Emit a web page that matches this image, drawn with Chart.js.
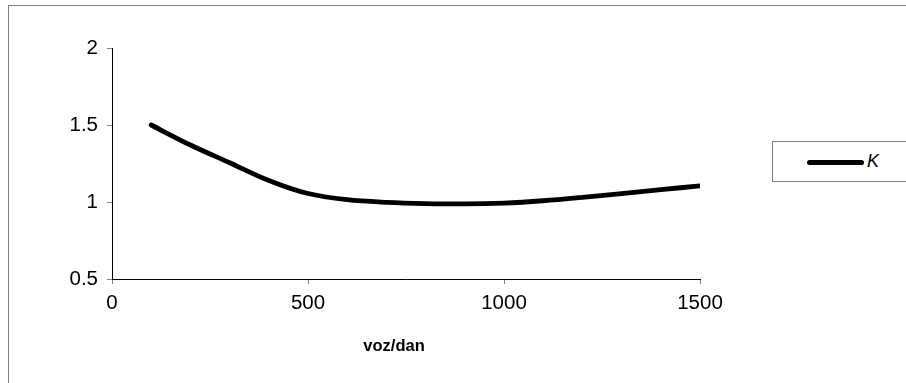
<!DOCTYPE html>
<html>
<head>
<meta charset="utf-8">
<script src="https://cdn.jsdelivr.net/npm/chart.js@4.4.0/dist/chart.umd.min.js"></script>
<style>
    body { margin: 0; background: #fff; }
    #wrap { position: relative; width: 906px; height: 383px; overflow: hidden; }
    #frame { position: absolute; left: 8px; top: 5px; width: 906px; height: 400px; border: 1px solid #808080; box-sizing: border-box; pointer-events: none; }
    #legend { position: absolute; left: 772px; top: 141px; width: 140px; height: 41px; border: 1px solid #808080; box-sizing: border-box; background: #fff; }
    #legend .swatch { position: absolute; left: 34px; top: 18px; width: 57px; height: 5px; background: #000; border-radius: 3px; }
    #legend .label { position: absolute; left: 94px; top: 9px; font: italic 18px "Liberation Sans", Arial, sans-serif; color: #000; }
</style>
</head>
<body>
<div id="wrap">
    <canvas id="chart" width="906" height="383"></canvas>
    <div id="frame"></div>
    <div id="legend"><span class="swatch"></span><span class="label">K</span></div>
</div>
<script>
// traffic volume (voz/dan) and K factor
const xValues = [100, 200, 300, 400, 500, 600, 700, 800, 900, 1000, 1100, 1200, 1300, 1400, 1500];
const kValues = [1.50, 1.37, 1.255, 1.14, 1.055, 1.015, 0.998, 0.99, 0.988, 0.993, 1.008, 1.03, 1.055, 1.08, 1.105];
const seriesName = 'K';
const xTitle = 'voz/dan';

const fontFamily = '"Liberation Sans", Arial, sans-serif';

// axis title sits a bit left of the plot centre in the original, so draw it here
const xTitlePlugin = {
    id: 'xTitle',
    afterDraw(chart) {
        const c = chart.ctx;
        const s = chart.scales.x;
        c.save();
        c.font = 'bold 16.5px ' + fontFamily;
        c.fillStyle = '#000';
        c.textAlign = 'center';
        c.textBaseline = 'alphabetic';
        c.fillText(xTitle, (s.left + s.right) / 2 - 12, s.top + 72);
        c.restore();
    }
};

const ctx = document.getElementById('chart').getContext('2d');
new Chart(ctx, {
    type: 'line',
    data: {
        datasets: [{
            label: seriesName,
            data: xValues.map((x, i) => ({ x: x, y: kValues[i] })),
            borderColor: '#000',
            borderWidth: 4.8,
            borderCapStyle: 'round',
            pointRadius: 0,
            tension: 0.4,
            cubicInterpolationMode: 'monotone',
            fill: false
        }]
    },
    options: {
        responsive: false,
        animation: false,
        layout: { padding: { left: 0, top: 48, right: 206, bottom: 0 } },
        plugins: {
            legend: { display: false },
            tooltip: { enabled: false }
        },
        scales: {
            x: {
                type: 'linear',
                min: 0,
                max: 1500,
                ticks: {
                    stepSize: 500, color: '#000', padding: 7,
                    font: { family: fontFamily, size: 20.5 },
                    callback: (v) => String(v)
                },
                grid: { display: true, drawOnChartArea: false, tickLength: 5, color: '#808080' },
                border: { color: '#000', width: 1 },
                afterFit: (scale) => { scale.height = 104; }
            },
            y: {
                min: 0.5,
                max: 2,
                ticks: {
                    stepSize: 0.5, color: '#000', padding: 9,
                    font: { family: fontFamily, size: 20.5 },
                    callback: (v) => String(v)
                },
                grid: { display: true, drawOnChartArea: false, tickLength: 5, color: '#808080' },
                border: { color: '#000', width: 1 },
                afterFit: (scale) => { scale.width = 112; }
            }
        }
    },
    plugins: [xTitlePlugin]
});
</script>
</body>
</html>
